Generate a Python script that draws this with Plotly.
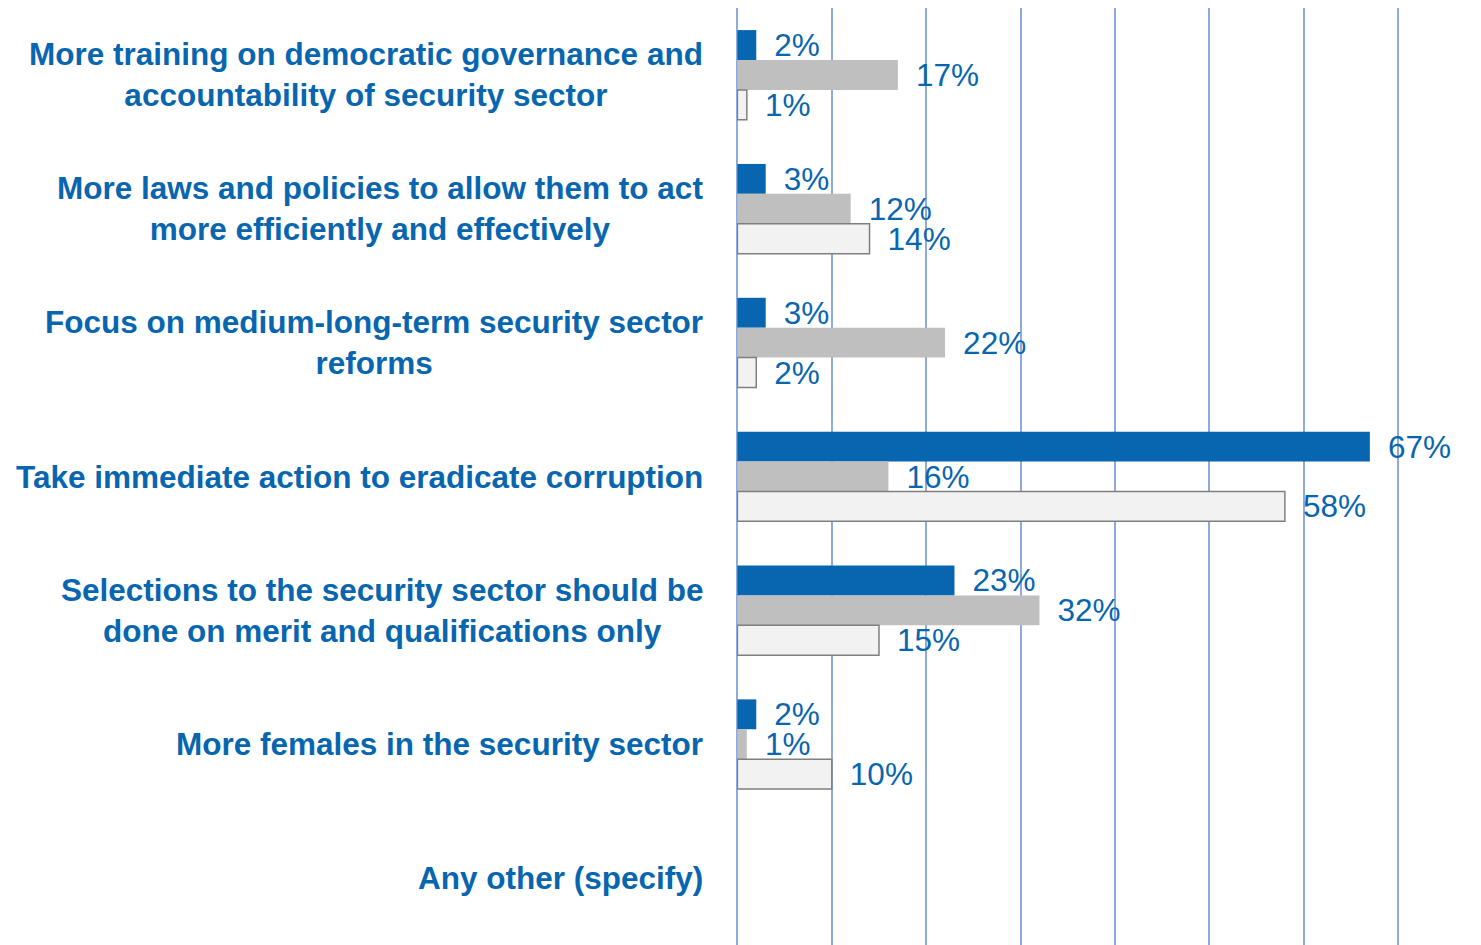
import plotly.graph_objects as go

categories = [
    "More training on democratic governance and<br>accountability of security sector",
    "More laws and policies to allow them to act<br>more efficiently and effectively",
    "Focus on medium-long-term security sector<br>reforms",
    "Take immediate action to eradicate corruption",
    "Selections to the security sector should be<br>done on merit and qualifications only",
    "More females in the security sector",
    "Any other (specify)",
]
series_a = [2, 3, 3, 67, 23, 2, None]
series_b = [17, 12, 22, 16, 32, 1, None]
series_c = [1, 14, 2, 58, 15, 10, None]

blue = "#0766AF"
grid = "#8FAADC"
font_family = "Liberation Sans, Arial, sans-serif"

fig = go.Figure()
styles = [
    (series_a, blue, blue, 0),
    (series_b, "#BFBFBF", "#BFBFBF", 0),
    (series_c, "#F2F2F2", "#7F7F7F", 1.5),
]
for vals, fill, edge, lw in styles:
    fig.add_trace(go.Bar(
        y=categories,
        x=vals,
        orientation="h",
        marker=dict(color=fill, line=dict(color=edge, width=lw)),
        text=[None if v is None else "\u00a0\u2009%d%%" % v for v in vals],
        textposition="outside",
        textfont=dict(family=font_family, size=31.5, color=blue),
        constraintext="none",
        cliponaxis=False,
        showlegend=False,
        hoverinfo="skip",
    ))

# category labels: block right-aligned, lines centred (Excel style)
for cat in categories:
    fig.add_annotation(
        x=0, xref="paper", xshift=-32, xanchor="right",
        y=cat, yref="y",
        text="<b>%s</b>" % cat,
        align="center",
        showarrow=False,
        font=dict(family=font_family, size=31.5, color=blue),
    )

# page body adds an 8px margin, so the figure is a bit smaller than the window
fig.update_layout(
    width=1473,
    height=937,
    margin=dict(l=729, r=80, t=0, b=0),
    plot_bgcolor="white",
    paper_bgcolor="white",
    barmode="group",
    bargap=0.33,
    bargroupgap=0,
    xaxis=dict(
        range=[-0.04, 70.3],
        tick0=0,
        dtick=10,
        showgrid=True,
        gridcolor=grid,
        gridwidth=1.5,
        zeroline=True,
        zerolinecolor=grid,
        zerolinewidth=1.5,
        showticklabels=False,
        showline=False,
        fixedrange=True,
    ),
    yaxis=dict(
        autorange="reversed",
        showticklabels=False,
        showgrid=False,
        showline=False,
        fixedrange=True,
    ),
)

fig.write_html("out.html")
